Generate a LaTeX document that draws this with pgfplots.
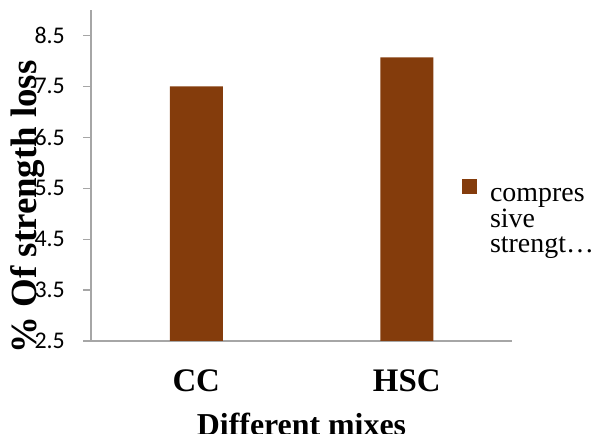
\documentclass[border=0pt]{standalone}
\usepackage{fontspec}
\setmainfont{Liberation Serif}
\newfontfamily\calib{Carlito}
\usepackage{pgfplots}
\pgfplotsset{compat=1.18}
\definecolor{barbrown}{HTML}{843C0C}
\definecolor{axgray}{HTML}{A6A6A6}
\begin{document}
\begin{tikzpicture}[x=1bp,y=1bp]
\path[use as bounding box] (0,0) rectangle (603,434);
\begin{axis}[
  at={(91bp,93bp)}, anchor=south west,
  scale only axis, width=421bp, height=331bp,
  xmin=0, xmax=2, ymin=2.5, ymax=9,
  ybar, bar width=53bp,
  axis x line*=bottom, axis y line*=left,
  axis line style={axgray, line width=1.2bp, -},
  ytick={2.5,3.5,4.5,5.5,6.5,7.5,8.5},
  xtick={0.5,1.5}, xticklabels={CC,HSC},
  xtick style={draw=none},
  ytick style={axgray, line width=1.2bp},
  tick align=outside, major tick length=8bp,
  /pgf/number format/fixed, /pgf/number format/fixed zerofill,
  /pgf/number format/precision=1,
  /pgf/number format/assume math mode=true,
  yticklabel style={font=\calib\fontsize{24}{24}\selectfont, anchor=east, inner sep=0pt, xshift=-18bp},
  xticklabel style={font=\fontsize{33}{33}\selectfont\bfseries, anchor=base, inner sep=0pt, yshift=-43bp},
  xlabel={Different mixes},
  xlabel style={font=\fontsize{32}{32}\selectfont\bfseries, at={(axis description cs:0.5,-0.284)}, anchor=base, inner sep=0pt},
  ylabel={\% Of strength loss},
  ylabel style={font=\fontsize{37}{37}\selectfont\bfseries, at={(axis description cs:-0.1496,0.405)}, anchor=center, inner sep=0pt},
  legend style={draw=none, fill=none, inner sep=0pt, at={(axis description cs:0.881,0.4906)}, anchor=north west,
    font=\fontsize{28}{25.6}\selectfont, cells={align=left}},
  legend cell align=left,
]
\addplot[fill=barbrown, draw=none,
  legend image code/.code={\path[draw=none, fill=none, use as bounding box] (0bp,27.6bp) rectangle (26bp,42.6bp); \fill[barbrown] (0bp,27.6bp) rectangle (15bp,42.6bp);}]
  coordinates {(0.5,7.5) (1.5,8.07)};
\addlegendentry{compres\\sive\\strengt…}
\end{axis}
\end{tikzpicture}
\end{document}
